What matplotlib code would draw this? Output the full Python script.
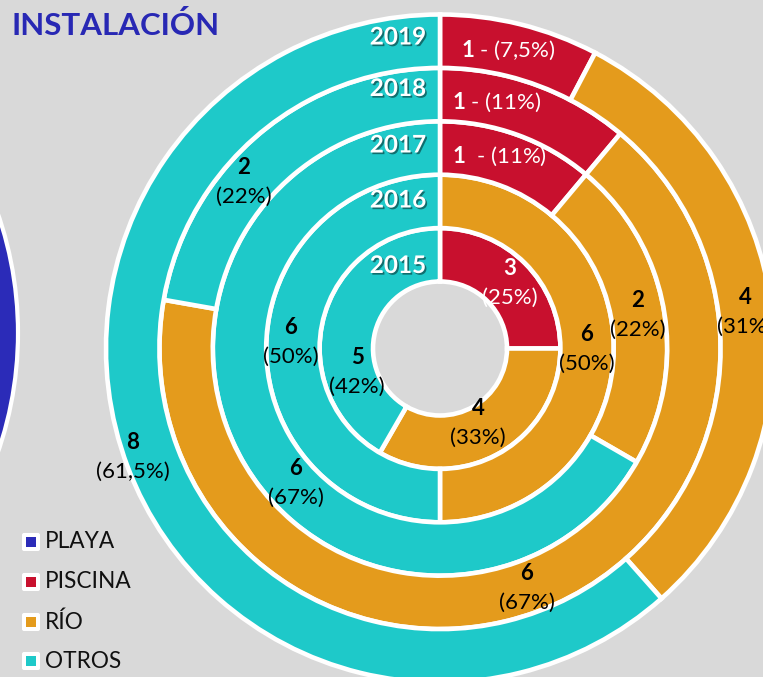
import numpy as np
import matplotlib
matplotlib.use("Agg")
import matplotlib.pyplot as plt
import matplotlib.patheffects as pe
from matplotlib.patches import Circle, FancyBboxPatch, Rectangle

# ---------------- data ----------------
years = ['2015', '2016', '2017', '2018', '2019']
categories = ['PLAYA', 'PISCINA', 'RÍO', 'OTROS']
piscina = [3, 0, 1, 1, 1]
rio = [4, 6, 2, 6, 4]
otros = [5, 6, 6, 2, 8]
piscina_pct = ['25%', '', '11%', '11%', '7,5%']
rio_pct = ['33%', '50%', '22%', '67%', '31%']
otros_pct = ['42%', '50%', '67%', '22%', '61,5%']

# ---------------- style ----------------
BG = '#d9d9d9'
COLORS = {'PLAYA': '#2b2bb8', 'PISCINA': '#c8102e', 'RÍO': '#e49b1c', 'OTROS': '#1ec9c9'}
FONT = 'Lato'
plt.rcParams['font.family'] = [FONT, 'DejaVu Sans']
plt.rcParams['mathtext.fontset'] = 'custom'
plt.rcParams['mathtext.rm'] = FONT
plt.rcParams['mathtext.bf'] = FONT + ':bold'

W, H = 763, 677
fig = plt.figure(figsize=(W / 100, H / 100), dpi=100, facecolor=BG)
ax = fig.add_axes([0, 0, 1, 1])
ax.set_facecolor(BG)

def Y(y):
    return H - y

cx, cy = 440, Y(348.5)
r_hole = 67
ring_w = (334 - r_hole) / 5

# partial donut of another chart at the left edge
ax.add_patch(Circle((-346, Y(333)), 364, facecolor=COLORS['PLAYA'], edgecolor='white', lw=3, zorder=1))

# rings
for i, yr in enumerate(years):
    vals = [piscina[i], rio[i], otros[i]]
    cols = [COLORS['PISCINA'], COLORS['RÍO'], COLORS['OTROS']]
    v = [a for a in vals if a > 0]
    c = [b for a, b in zip(vals, cols) if a > 0]
    R = r_hole + ring_w * (i + 1)
    wedges, _ = ax.pie(v, radius=R, center=(cx, cy), startangle=90, counterclock=False,
                       colors=c, frame=True,
                       wedgeprops=dict(width=ring_w, edgecolor='white', linewidth=3.3))
    for wdg in wedges:
        wdg.set_zorder(2)

# year labels
year_y = [265.5, 200, 145, 88.5, 37]
shadow = [pe.SimplePatchShadow(offset=(1.2, -1.2), shadow_rgbFace='black', alpha=0.45), pe.Normal()]
for yr, yy in zip(years, year_y):
    ax.text(426, Y(yy), yr, ha='right', va='center', fontsize=17.5, fontweight='bold',
            color='white', path_effects=shadow, zorder=5)

# data labels: two-line (bold value / percent)
two_line = [
    (piscina[0], piscina_pct[0], 510, 283, 'white'),
    (rio[0], rio_pct[0], 478, 423, 'black'),
    (otros[0], otros_pct[0], 357, 372, 'black'),
    (rio[1], rio_pct[1], 587, 349, 'black'),
    (otros[1], otros_pct[1], 291, 342, 'black'),
    (rio[2], rio_pct[2], 638, 315, 'black'),
    (otros[2], otros_pct[2], 296, 483, 'black'),
    (rio[3], rio_pct[3], 527, 588, 'black'),
    (otros[3], otros_pct[3], 244, 182, 'black'),
    (rio[4], rio_pct[4], 745, 312, 'black'),
    (otros[4], otros_pct[4], 133, 457, 'black'),
]
for val, pct, x, y, col in two_line:
    ax.text(x, Y(y - 14.5), str(val), ha='center', va='center', fontsize=16,
            fontweight='bold', color=col, zorder=5)
    ax.text(x, Y(y + 14.5), '(' + pct + ')', ha='center', va='center', fontsize=16,
            color=col, zorder=5)

# single-line piscina labels
one_line = [(2, 499, 156, '  - '), (3, 497, 102, ' - '), (4, 508, 50, ' - ')]
for i, x, y, sep in one_line:
    ax.text(x, Y(y), r'$\mathbf{%d}$' % piscina[i] + sep + '(' + piscina_pct[i] + ')',
            ha='center', va='center', fontsize=16, color='white', zorder=5)

# title
ax.text(12, Y(35), 'INSTALACIÓN', ha='left', va='baseline', fontsize=22.5,
        fontweight='bold', color='#2828b4', zorder=5)

# legend
leg_y = [542, 582, 622, 661]
for cat, yy in zip(categories, leg_y):
    ax.add_patch(FancyBboxPatch((22, Y(yy) - 9), 18, 18, boxstyle='round,pad=0,rounding_size=2',
                                facecolor='white', edgecolor='none', zorder=5))
    ax.add_patch(Rectangle((26, Y(yy) - 5), 10, 10, facecolor=COLORS[cat], edgecolor='none', zorder=6))
    ax.text(45, Y(yy), cat, ha='left', va='center', fontsize=16.3, color='#111111', zorder=6)

ax.set_xlim(0, W)
ax.set_ylim(0, H)
ax.set_aspect('equal')
ax.set_axis_off()

fig.savefig('out.png', dpi=100, facecolor=BG)
